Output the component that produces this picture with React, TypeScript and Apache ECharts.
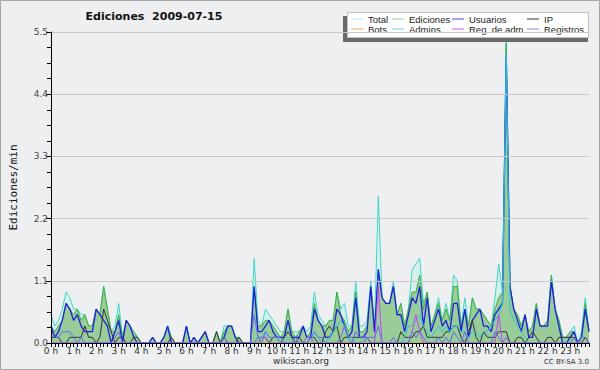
import React, { useEffect, useRef } from "react";
import * as echarts from "echarts";

const TITLE = "Ediciones  2009-07-15";
const Y_NAME = "Ediciones/min";
const FOOTER = "wikiscan.org";
const LICENSE = "CC BY-SA 3.0";
const STEP_MIN = 10;
const Y_TICKS = [0, 1.1, 2.2, 3.3, 4.4, 5.5];

// values per 10-minute slot (edits/min), one row per hour
const total = [
  0.5, 0.3, 0.4, 0.6, 0.9, 0.8,
  0.6, 0.6, 0.5, 0.5, 0.3, 0.3,
  0.6, 0.5, 1.0, 0.6, 0.2, 0.3,
  0.7, 0.1, 0.4, 0.3, 0.2, 0.1,
  0, 0, 0, 0.1, 0, 0,
  0.1, 0.3, 0.1, 0, 0, 0,
  0.3, 0, 0.1, 0, 0.1, 0.2,
  0, 0, 0.2, 0, 0.3, 0.3,
  0.3, 0.1, 0.1, 0, 0, 0,
  1.5, 0.4, 0.3, 0.6, 0.5, 0.4,
  0.3, 0.2, 0.2, 0.6, 0.2, 0.2,
  0.2, 0.3, 0.2, 0.3, 0.9, 0.5,
  0.4, 0.3, 0.4, 0.4, 0.9, 0.6,
  0.7, 0.3, 0.3, 1.1, 0.3, 0.3,
  0.4, 1.1, 0.3, 2.6, 0.8, 0.7,
  0.7, 1.1, 0.5, 0.7, 0.3, 0.6,
  1.3, 1.4, 1.5, 0.7, 0.9, 0.3,
  0.5, 0.8, 0.4, 0.7, 0.4, 1.2,
  1.1, 0.3, 0.8, 0.3, 0.8, 0.6,
  0.6, 0.5, 0.4, 0.3, 0.8, 1.4,
  0.9, 5.4, 1.0, 0.6, 0.5, 0.3,
  0.5, 0.2, 0.3, 0.7, 0.3, 0.3,
  0.4, 1.2, 0.6, 0.4, 0.1, 0.1,
  0.2, 0.3, 0.0, 0.2, 0.8, 0.2,
];

const ediciones = [
  0.3, 0.2, 0.3, 0.4, 0.7, 0.6,
  0.5, 0.6, 0.4, 0.5, 0.3, 0.3,
  0.6, 0.5, 1.0, 0.6, 0.2, 0.2,
  0.5, 0.1, 0.4, 0.3, 0.2, 0.1,
  0, 0, 0, 0.1, 0, 0,
  0.1, 0.3, 0.1, 0, 0, 0,
  0.3, 0, 0.1, 0, 0.1, 0.2,
  0, 0, 0.2, 0, 0.2, 0.3,
  0.3, 0.1, 0.1, 0, 0, 0,
  1.0, 0.3, 0.3, 0.4, 0.4, 0.3,
  0.2, 0.1, 0.2, 0.6, 0.2, 0.1,
  0.2, 0.3, 0.1, 0.2, 0.7, 0.4,
  0.3, 0.3, 0.4, 0.4, 0.9, 0.5,
  0.4, 0.2, 0.3, 0.9, 0.2, 0.2,
  0.3, 1.0, 0.2, 1.3, 0.8, 0.7,
  0.7, 1.0, 0.5, 0.7, 0.3, 0.6,
  0.9, 0.9, 1.2, 0.6, 0.9, 0.3,
  0.5, 0.7, 0.4, 0.6, 0.4, 1.0,
  1.0, 0.3, 0.6, 0.3, 0.8, 0.6,
  0.6, 0.5, 0.4, 0.3, 0.6, 0.8,
  0.9, 5.3, 1.0, 0.6, 0.5, 0.3,
  0.5, 0.2, 0.3, 0.7, 0.3, 0.3,
  0.4, 1.2, 0.6, 0.4, 0.1, 0.1,
  0.2, 0.2, 0.0, 0.1, 0.7, 0.2,
];

const usuarios = [
  0.3, 0.1, 0.2, 0.4, 0.7, 0.6,
  0.4, 0.5, 0.3, 0.2, 0.2, 0.2,
  0.6, 0.5, 0.4, 0.3, 0.0, 0.2,
  0.4, 0.0, 0.4, 0.3, 0.1, 0.0,
  0, 0, 0, 0.1, 0, 0,
  0.1, 0.3, 0, 0, 0, 0,
  0.3, 0, 0.1, 0, 0.1, 0.2,
  0, 0, 0, 0, 0.1, 0.3,
  0.3, 0.1, 0, 0, 0, 0,
  1.0, 0.2, 0.2, 0.3, 0.4, 0.2,
  0.1, 0.1, 0.1, 0.4, 0.1, 0.1,
  0.1, 0.3, 0.1, 0.1, 0.6, 0.4,
  0.3, 0.1, 0.1, 0.2, 0.6, 0.5,
  0.3, 0.1, 0.2, 0.8, 0.1, 0.1,
  0.2, 1.0, 0.2, 1.3, 0.8, 0.7,
  0.7, 1.0, 0.5, 0.5, 0.2, 0.5,
  0.8, 0.7, 1.0, 0.3, 0.8, 0.2,
  0.4, 0.6, 0.3, 0.4, 0.2, 0.7,
  0.7, 0.2, 0.6, 0.1, 0.4, 0.5,
  0.6, 0.3, 0.3, 0.2, 0.5, 0.6,
  0.7, 5.1, 1.0, 0.6, 0.4, 0.2,
  0.5, 0.1, 0.1, 0.6, 0.3, 0.3,
  0.3, 1.1, 0.6, 0.3, 0.0, 0.0,
  0.1, 0.2, 0.0, 0.1, 0.6, 0.2,
];

const ip = [
  0.1, 0.1, 0.1, 0, 0, 0.1,
  0.1, 0.1, 0.1, 0.3, 0.1, 0.1,
  0, 0.1, 0.6, 0.4, 0.2, 0,
  0.1, 0.1, 0, 0, 0.1, 0.1,
  0, 0, 0, 0, 0, 0,
  0, 0, 0.1, 0, 0, 0,
  0, 0, 0, 0, 0, 0,
  0, 0, 0.2, 0, 0.1, 0,
  0, 0, 0.1, 0, 0, 0,
  0, 0.1, 0.1, 0.1, 0, 0.1,
  0.1, 0, 0.1, 0.2, 0.1, 0,
  0.1, 0, 0, 0.1, 0.1, 0,
  0, 0.2, 0.3, 0.2, 0.3, 0,
  0.1, 0.1, 0.1, 0.1, 0.1, 0.1,
  0.1, 0, 0, 0, 0, 0,
  0, 0, 0, 0.2, 0.1, 0.1,
  0.1, 0.2, 0.2, 0.3, 0.1, 0.1,
  0.1, 0.1, 0.1, 0.2, 0.2, 0.3,
  0.3, 0.1, 0, 0.2, 0.4, 0.1,
  0, 0.2, 0.1, 0.1, 0.1, 0.2,
  0.2, 0.2, 0, 0, 0.1, 0.1,
  0, 0.1, 0.2, 0.1, 0, 0,
  0.1, 0.1, 0, 0.1, 0.1, 0.1,
  0.1, 0.1, 0, 0, 0.1, 0,
];

const bots = [
  0, 0, 0, 0, 0, 0, 0, 0, 0, 0, 0, 0, 0, 0, 0, 0, 0, 0, 0, 0, 0, 0, 0, 0,
  0, 0, 0, 0, 0, 0, 0, 0, 0, 0, 0, 0, 0, 0, 0, 0, 0, 0, 0, 0, 0, 0, 0, 0,
  0, 0, 0, 0, 0, 0, 0, 0, 0, 0, 0, 0, 0, 0, 0, 0, 0, 0, 0, 0, 0, 0, 0, 0,
  0, 0, 0, 0, 0, 0, 0, 0, 0, 0, 0, 0, 0, 0, 0, 0, 0, 0, 0, 0, 0, 0, 0, 0,
  0, 0, 0, 0, 0, 0, 0, 0, 0, 0, 0, 0, 0, 0, 0, 0, 0, 0, 0, 0, 0, 0, 0, 0,
  0, 0, 0, 0, 0, 0, 0, 0, 0, 0, 0, 0, 0, 0, 0, 0, 0, 0, 0, 0, 0, 0, 0, 0,
];

const admins = [
  0, 0, 0, 0, 0, 0,
  0, 0, 0, 0, 0, 0,
  0, 0, 0, 0, 0, 0,
  0, 0, 0, 0, 0, 0,
  0, 0, 0, 0, 0, 0,
  0, 0, 0, 0, 0, 0,
  0, 0, 0, 0, 0, 0,
  0, 0, 0, 0, 0, 0,
  0, 0, 0, 0, 0, 0,
  0, 0.1, 0.1, 0.2, 0.1, 0.1,
  0.1, 0, 0, 0.1, 0, 0,
  0, 0, 0, 0, 0.2, 0.1,
  0, 0, 0.1, 0.2, 0.3, 0.4,
  0.3, 0.1, 0.1, 0, 0, 0.1,
  0, 0, 0, 0, 0, 0,
  0, 0, 0, 0, 0.1, 0.3,
  0.3, 0.4, 0.5, 0.3, 0.2, 0.1,
  0.2, 0.3, 0.2, 0.3, 0.2, 0.3,
  0.3, 0.2, 0.2, 0.1, 0.2, 0.2,
  0.1, 0.2, 0.2, 0.3, 0.4, 0.5,
  0.7, 5.1, 0.6, 0.4, 0.3, 0.2,
  0.1, 0, 0, 0, 0, 0,
  0, 0, 0, 0, 0, 0,
  0, 0, 0, 0, 0, 0,
];

const regAdm = [
  0, 0, 0, 0, 0, 0,
  0, 0, 0, 0, 0, 0,
  0, 0, 0, 0, 0, 0,
  0, 0, 0, 0, 0, 0,
  0, 0, 0, 0, 0, 0,
  0, 0, 0, 0, 0, 0,
  0, 0, 0, 0, 0, 0,
  0, 0, 0, 0, 0, 0,
  0, 0, 0, 0, 0, 0,
  0, 0, 0.1, 0.1, 0, 0,
  0, 0, 0, 0, 0, 0,
  0, 0, 0, 0.1, 0, 0,
  0, 0, 0, 0, 0, 0,
  0, 0, 0, 0, 0, 0,
  0.1, 0, 0, 1.0, 0, 0,
  0, 0, 0, 0, 0, 0,
  0.2, 0.5, 0.2, 0, 0, 0,
  0, 0, 0, 0, 0, 0,
  0, 0, 0, 0, 0, 0,
  0, 0, 0, 0, 0, 0.5,
  0, 0, 0, 0, 0, 0,
  0, 0, 0, 0, 0, 0,
  0, 0, 0, 0, 0, 0,
  0, 0, 0, 0, 0, 0,
];

const registros = [
  0.2, 0.1, 0.1, 0.2, 0.2, 0.2,
  0.1, 0, 0.1, 0, 0, 0,
  0, 0, 0, 0, 0, 0.1,
  0.2, 0, 0, 0, 0, 0,
  0, 0, 0, 0, 0, 0,
  0, 0, 0, 0, 0, 0,
  0, 0, 0, 0, 0, 0,
  0, 0, 0, 0, 0.1, 0,
  0, 0, 0, 0, 0, 0,
  0.5, 0.1, 0, 0.2, 0.1, 0.1,
  0.1, 0.1, 0, 0, 0, 0.1,
  0, 0, 0.1, 0.1, 0.2, 0.1,
  0.1, 0, 0, 0, 0, 0.1,
  0.3, 0.1, 0, 0.2, 0.1, 0.1,
  0.1, 0.1, 0.1, 0.3, 0, 0,
  0, 0.1, 0, 0, 0, 0,
  0.2, 0.1, 0.2, 0.1, 0, 0,
  0, 0.1, 0, 0.1, 0, 0.2,
  0.1, 0, 0.2, 0, 0, 0,
  0, 0, 0, 0, 0.2, 0.1,
  0, 0.1, 0, 0, 0, 0,
  0, 0, 0, 0, 0, 0,
  0, 0, 0, 0, 0, 0,
  0, 0.1, 0, 0.1, 0.1, 0,
];

const slots = total.map((_, i) => i * STEP_MIN);
const categories = slots.map((m) => `${Math.floor(m / 60)} h`);

const FONT = "DejaVu Sans";
const LEGEND_FONT = "Liberation Sans";

type Def = { name: string; data: number[]; color: string; legend: string; width: number; area?: string };

const DEFS: Def[] = [
  { name: "Total", data: total, color: "#3ed4cb", legend: "#b6eaea", width: 1, area: "#d6f1ed" },
  { name: "Ediciones", data: ediciones, color: "#3aae3a", legend: "#8cd68c", width: 1, area: "#98cc98" },
  { name: "Bots", data: bots, color: "#f39c34", legend: "#f2a548", width: 1 },
  { name: "Usuarios", data: usuarios, color: "#1e1ee0", legend: "#4646e2", width: 1.3 },
  { name: "IP", data: ip, color: "#333333", legend: "#333333", width: 1 },
  { name: "Admins.", data: admins, color: "#34c2de", legend: "#5ed2e4", width: 1 },
  { name: "Reg. de adm.", data: regAdm, color: "#c844ee", legend: "#d25ee8", width: 1 },
  { name: "Registros", data: registros, color: "#6a6af5", legend: "#8686f2", width: 1 },
];

const LEGEND_COLS: [string, string, number][] = [
  ["Total", "Bots", 351],
  ["Ediciones", "Admins.", 392],
  ["Usuarios", "Reg. de adm.", 452],
  ["IP", "Registros", 527],
];

export default function App() {
  const ref = useRef<HTMLDivElement>(null);
  useEffect(() => {
    if (!ref.current) return;
    const chart = echarts.init(ref.current, null, { renderer: "svg" });
    const colorOf = (n: string) => DEFS.find((d) => d.name === n)!.legend;
    chart.setOption({
      animation: false,
      backgroundColor: "#eeeff1",
      textStyle: { fontFamily: FONT },
      grid: { left: 46, right: 11, top: 32, bottom: 27, containLabel: false },
      legend: LEGEND_COLS.map(([a, b, x]) => ({
        orient: "vertical",
        left: x - 5,
        top: 9,
        itemGap: 0,
        itemWidth: 12,
        itemHeight: 1,
        icon: "rect",
        selectedMode: false,
        textStyle: { fontSize: 9.5, color: "#222", fontFamily: LEGEND_FONT, lineHeight: 10 },
        data: [a, b].map((n) => ({ name: n, icon: "rect", itemStyle: { color: colorOf(n), borderWidth: 0 } })),
      })),
      xAxis: {
        type: "category",
        data: categories,
        boundaryGap: false,
        z: 6,
        axisLine: { lineStyle: { color: "#000", width: 1 } },
        axisTick: { show: true, interval: 0, length: 4, lineStyle: { color: "#000" } },
        axisLabel: { interval: 5, fontSize: 9, color: "#333", margin: 3, fontFamily: FONT },
        splitLine: { show: false },
      },
      yAxis: {
        type: "value",
        min: Y_TICKS[0],
        max: Y_TICKS[Y_TICKS.length - 1],
        interval: 1.1,
        z: 6,
        name: Y_NAME,
        nameLocation: "middle",
        nameGap: 32,
        nameTextStyle: { fontFamily: "DejaVu Sans Mono", fontSize: 11, color: "#111" },
        axisLine: { show: true, lineStyle: { color: "#000" } },
        axisTick: { show: true, length: 5, lineStyle: { color: "#000" } },
        minorTick: { show: true, splitNumber: 4, length: 4, lineStyle: { color: "#000" } },
        axisLabel: { fontSize: 9, color: "#444", margin: 3, formatter: (v: number) => v.toFixed(1), fontFamily: FONT },
        splitLine: { show: true, lineStyle: { color: "#c8c8c8", width: 1 } },
      },
      series: DEFS.map((d, k) => ({
        name: d.name,
        type: "line",
        data: d.data,
        showSymbol: false,
        symbol: "none",
        z: 2 + k * 0.01,
        lineStyle: { color: d.color, width: d.width },
        itemStyle: { color: d.color },
        areaStyle: d.area ? { color: d.area, opacity: 1 } : undefined,
        emphasis: { disabled: true },
      })),
      graphic: [
        { type: "rect", z: 10, silent: true, shape: { x: 0.5, y: 0.5, width: 599, height: 369 }, style: { fill: "none", stroke: "#a6a6a6", lineWidth: 1 } },
        { type: "text", z: 10, x: 154, y: 16, style: { text: TITLE, font: `bold 11px ${FONT}`, fill: "#111", align: "center", verticalAlign: "middle" } },
        { type: "rect", z: 3, silent: true, shape: { x: 343, y: 16, width: 245, height: 26 }, style: { fill: "#6a6a6a" } },
        { type: "rect", z: 3, silent: true, shape: { x: 347.5, y: 12.5, width: 241, height: 25 }, style: { fill: "#ffffff", stroke: "#c0c0c0", lineWidth: 1 } },
        { type: "text", z: 10, x: 301, y: 361, style: { text: FOOTER, font: `9px ${FONT}`, fill: "#333", align: "center", verticalAlign: "middle" } },
        { type: "text", z: 10, x: 589, y: 362, style: { text: LICENSE, font: `7px ${FONT}`, fill: "#333", align: "right", verticalAlign: "middle" } },
      ],
    });
    return () => chart.dispose();
  }, []);
  return <div ref={ref} style={{ position: "absolute", left: 0, top: 0, width: 600, height: 370 }} />;
}
